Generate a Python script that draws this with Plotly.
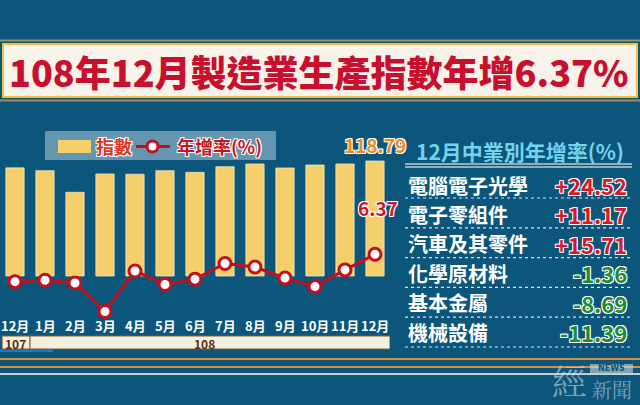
import plotly.graph_objects as go

# ---------------- data ----------------
months = ["12月", "1月", "2月", "3月", "4月", "5月", "6月", "7月", "8月", "9月", "10月", "11月", "12月"]
year_labels = ["107", "108"]
index_vals = [111.7, 108.8, 86.5, 105.4, 105.1, 108.8, 107.1, 112.9, 115.7, 111.6, 114.7, 115.7, 118.79]
yoy_vals = [-1.3, -0.9, -1.7, -9.7, 1.7, -2.1, -0.6, 3.8, 2.8, -0.3, -2.7, 2.0, 6.37]
industries = ["電腦電子光學", "電子零組件", "汽車及其零件", "化學原材料", "基本金屬", "機械設備"]
industry_rates = [24.52, 11.17, 15.71, -1.36, -8.69, -11.39]

title_text = "108年12月製造業生產指數年增6.37%"
table_title = "12月中業別年增率(%)"

# ---------------- style ----------------
W, H = 640, 405
BG = "#0b567a"
CJK = "Noto Sans CJK TC"
OUTLINE = "1px 1px 0 #fff, -1px -1px 0 #fff, 1px -1px 0 #fff, -1px 1px 0 #fff"


def fx(px):
    return px / W


def fy(py):
    return 1 - py / H


xs = list(range(len(months)))

fig = go.Figure()

bar_text = [""] * (len(index_vals) - 1) + [f"{index_vals[-1]:.2f}"]
fig.add_trace(go.Bar(
    x=xs, y=index_vals, width=0.61,
    marker=dict(color="#f5cf6c", line=dict(color="rgba(255,240,200,0.7)", width=1)),
    text=bar_text, textposition="outside", cliponaxis=False, constraintext="none",
    textfont=dict(family=CJK, size=19, color="#f0881c", weight="bold", shadow=OUTLINE),
    showlegend=False, hoverinfo="skip",
))

fig.add_trace(go.Scatter(
    x=xs, y=yoy_vals, yaxis="y2", mode="lines+markers",
    line=dict(color="#c3101e", width=3),
    marker=dict(symbol="circle", size=12, color="white", line=dict(color="#c3101e", width=3)),
    cliponaxis=False, showlegend=False, hoverinfo="skip",
))

annotations = []
shapes = []

# ---------------- title banner ----------------
shapes.append(dict(type="line", xref="paper", yref="paper", x0=0, x1=1, y0=fy(40.5), y1=fy(40.5),
                   line=dict(color="#a88c5c", width=2)))
shapes.append(dict(type="line", xref="paper", yref="paper", x0=0, x1=1, y0=fy(100.5), y1=fy(100.5),
                   line=dict(color="#a88c5c", width=2)))
shapes.append(dict(type="rect", xref="paper", yref="paper", x0=fx(3), x1=fx(637), y0=fy(44), y1=fy(97),
                   fillcolor="#f7f2ea", line=dict(color="#f0c23a", width=2)))
annotations.append(dict(text=title_text, x=fx(319), y=fy(71), xref="paper", yref="paper",
                        showarrow=False, xanchor="center", yanchor="middle",
                        font=dict(family=CJK, size=36, color="#c8102e", weight=900)))

# ---------------- legend ----------------
shapes.append(dict(type="rect", xref="paper", yref="paper", x0=fx(45), x1=fx(276), y0=fy(131), y1=fy(160),
                   fillcolor="rgba(190,215,228,0.5)", line=dict(width=0)))
shapes.append(dict(type="rect", xref="paper", yref="paper", x0=fx(58), x1=fx(91), y0=fy(140), y1=fy(153),
                   fillcolor="#f5cf6c", line=dict(width=0)))
shapes.append(dict(type="line", xref="paper", yref="paper", x0=fx(136), x1=fx(170), y0=fy(146.5), y1=fy(146.5),
                   line=dict(color="#c3101e", width=3)))
shapes.append(dict(type="circle", xref="paper", yref="paper", x0=fx(147), x1=fx(158), y0=fy(141), y1=fy(152),
                   fillcolor="white", line=dict(color="#c3101e", width=3)))
annotations.append(dict(text="指數", x=fx(94), y=fy(146), xref="paper", yref="paper", showarrow=False,
                        xanchor="left", yanchor="middle",
                        font=dict(family=CJK, size=18, color="#e0321e", weight="bold", shadow=OUTLINE)))
annotations.append(dict(text="年增率(%)", x=fx(175), y=fy(146), xref="paper", yref="paper", showarrow=False,
                        xanchor="left", yanchor="middle",
                        font=dict(family=CJK, size=18, color="#c8141e", weight="bold", shadow=OUTLINE)))

# ---------------- last yoy label ----------------
annotations.append(dict(text=f"{yoy_vals[-1]:.2f}", x=xs[-1], y=yoy_vals[-1], xref="x", yref="y2",
                        showarrow=False, xanchor="center", yanchor="middle", xshift=3, yshift=47,
                        font=dict(family=CJK, size=19, color="#d0142a", weight="bold", shadow=OUTLINE)))

# ---------------- month labels ----------------
for i, m in enumerate(months):
    annotations.append(dict(text=m, x=xs[i], y=fy(325), xref="x", yref="paper", showarrow=False,
                            xanchor="center", yanchor="middle",
                            font=dict(family=CJK, size=13, color="white", weight="bold")))

# ---------------- year band ----------------
band_top, band_bot = 336, 349
shapes.append(dict(type="rect", xref="x", yref="paper", x0=-0.43, x1=0.5, y0=fy(band_bot), y1=fy(band_top),
                   fillcolor="#f3f0df", line=dict(color="#8b5a2b", width=1)))
shapes.append(dict(type="rect", xref="x", yref="paper", x0=0.5, x1=12.5, y0=fy(band_bot), y1=fy(band_top),
                   fillcolor="#f3f0df", line=dict(color="#8b5a2b", width=1)))
annotations.append(dict(text=year_labels[0], x=0.03, y=fy(343), xref="x", yref="paper", showarrow=False,
                        xanchor="center", yanchor="middle",
                        font=dict(family=CJK, size=12, color="#5a2d0c", weight="bold")))
annotations.append(dict(text=year_labels[1], x=6.3, y=fy(343), xref="x", yref="paper", showarrow=False,
                        xanchor="center", yanchor="middle",
                        font=dict(family=CJK, size=12, color="#5a2d0c", weight="bold")))
shapes.append(dict(type="rect", xref="paper", yref="paper", x0=0, x1=fx(53), y0=fy(352), y1=fy(349.5),
                   fillcolor="#1a78c8", line=dict(width=0)))

# ---------------- right table ----------------
annotations.append(dict(text=table_title, x=fx(414), y=fy(151), xref="paper", yref="paper", showarrow=False,
                        xanchor="left", yanchor="middle",
                        font=dict(family=CJK, size=21, color="#72d3ee", weight="bold")))
for yy in (164, 167):
    shapes.append(dict(type="line", xref="paper", yref="paper", x0=fx(405), x1=fx(632), y0=fy(yy), y1=fy(yy),
                       line=dict(color="#b9cfdc", width=1.5)))
for i, (name, rate) in enumerate(zip(industries, industry_rates)):
    ry = 185 + 29.4 * i
    annotations.append(dict(text=name, x=fx(406), y=fy(ry), xref="paper", yref="paper", showarrow=False,
                            xanchor="left", yanchor="middle",
                            font=dict(family=CJK, size=20, color="white", weight="bold")))
    col = "#d7182a" if rate > 0 else "#1f8a2e"
    annotations.append(dict(text=f"{rate:+.2f}", x=fx(629), y=fy(ry), xref="paper", yref="paper",
                            showarrow=False, xanchor="right", yanchor="middle",
                            font=dict(family=CJK, size=22, color=col, weight="bold", shadow=OUTLINE)))
    ly = 198 + 29.8 * i
    shapes.append(dict(type="line", xref="paper", yref="paper", x0=fx(405), x1=fx(632), y0=fy(ly), y1=fy(ly),
                       line=dict(color="#d6e4ec", width=1.2, dash="dot")))

# ---------------- bottom lines ----------------
for yy, c in ((359, "#d98c3c"), (367, "#d98c3c"), (374, "#c9cdd0")):
    shapes.append(dict(type="line", xref="paper", yref="paper", x0=0, x1=1, y0=fy(yy), y1=fy(yy),
                       line=dict(color=c, width=2.2)))

# ---------------- logo ----------------
LOGO = "rgba(200,218,228,0.6)"
annotations.append(dict(text="經", x=fx(569), y=fy(380), xref="paper", yref="paper", showarrow=False,
                        xanchor="center", yanchor="middle",
                        font=dict(family="Noto Serif CJK TC, " + CJK, size=35, color=LOGO)))
shapes.append(dict(type="rect", xref="paper", yref="paper", x0=fx(590), x1=fx(633), y0=fy(373), y1=fy(364),
                   fillcolor=LOGO, line=dict(width=0)))
annotations.append(dict(text="NEWS", x=fx(611.5), y=fy(368.5), xref="paper", yref="paper", showarrow=False,
                        xanchor="center", yanchor="middle",
                        font=dict(family="DejaVu Sans", size=8, color=BG, weight="bold")))
annotations.append(dict(text="新聞", x=fx(611.5), y=fy(389), xref="paper", yref="paper", showarrow=False,
                        xanchor="center", yanchor="middle",
                        font=dict(family="Noto Serif CJK TC, " + CJK, size=20, color=LOGO)))

# ---------------- axes ----------------
bar_zero_px, bar_scale = 276.0, 0.968
line_zero_px, line_scale = 277.0, 3.56
y_range = [(bar_zero_px - H) / bar_scale, bar_zero_px / bar_scale]
y2_range = [(line_zero_px - H) / line_scale, line_zero_px / line_scale]

fig.update_layout(
    width=W, height=H,
    margin=dict(l=0, r=0, t=0, b=0),
    paper_bgcolor=BG, plot_bgcolor="rgba(0,0,0,0)",
    xaxis=dict(domain=[0, 390 / W], range=[-0.5, 12.5], visible=False, fixedrange=True),
    yaxis=dict(domain=[0, 1], range=y_range, visible=False, fixedrange=True),
    yaxis2=dict(overlaying="y", range=y2_range, visible=False, fixedrange=True),
    shapes=shapes, annotations=annotations,
    font=dict(family=CJK),
)

fig.write_html("out.html")
